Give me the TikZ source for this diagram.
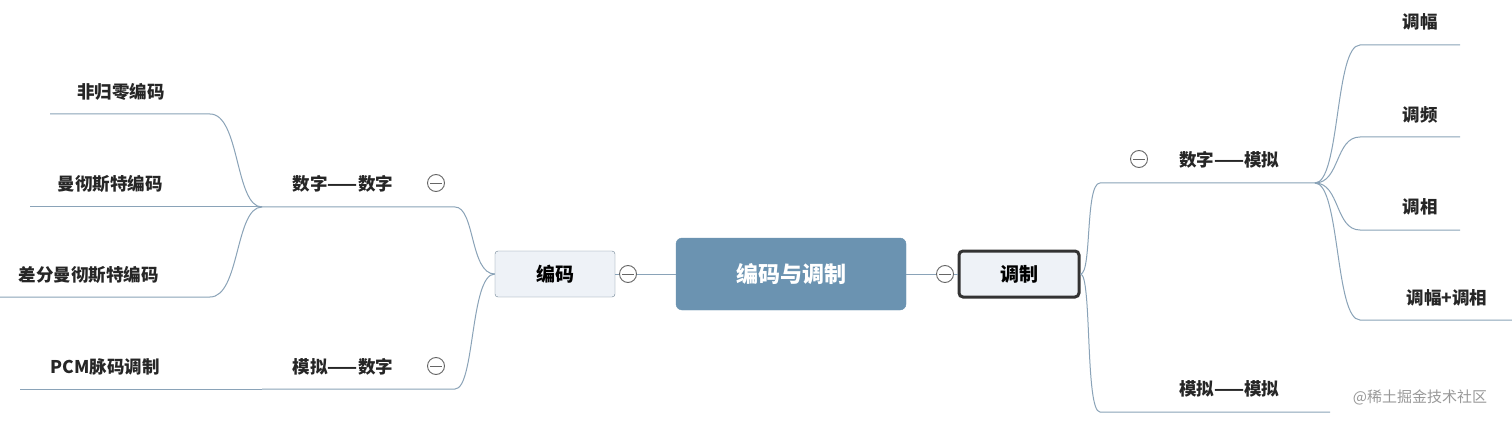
\documentclass[tikz,border=0pt]{standalone}
\usepackage{fontspec}
\newfontfamily\cjk{Noto Sans CJK SC}
\definecolor{ln}{HTML}{8AA3B8}
\definecolor{cen}{HTML}{6B93B1}
\definecolor{box}{HTML}{EEF2F7}
\begin{document}
\begin{tikzpicture}[x=1pt,y=-1pt,font=\cjk\fontsize{17.5}{20}\selectfont\bfseries,
  br/.style={draw=ln,line width=1pt},
  lbl/.style={inner sep=0pt,text=black!85},
  col/.style={circle,draw=black!60,fill=white,minimum size=17pt,inner sep=0pt,line width=0.9pt}]
\useasboundingbox[fill=white] (0,0) rectangle (1512,422);
% main nodes
\node[draw=cen,fill=cen,rounded corners=6pt,minimum width=230pt,minimum height=72pt,text=white,font=\cjk\fontsize{22}{26}\selectfont\bfseries] (c) at (791,274) {编码与调制};
\node[draw=ln!80!black,fill=box,rounded corners=3pt,minimum width=120pt,minimum height=46pt,font=\cjk\fontsize{19}{22}\selectfont\bfseries] (bm) at (555,274) {编码};
\node[draw=black!80,line width=3pt,fill=box,rounded corners=4pt,minimum width=120pt,minimum height=46pt,font=\cjk\fontsize{19}{22}\selectfont\bfseries] (tz) at (1019,274) {调制};
% coordinates
\coordinate (l1a) at (455,207); \coordinate (l1b) at (262,207);
\coordinate (l2a) at (455,389); \coordinate (l2b) at (262,389);
\coordinate (n1a) at (210,114); \coordinate (n1b) at (50,114);
\coordinate (n2b) at (30,207);
\coordinate (n3a) at (210,297); \coordinate (n3b) at (0,297);
\coordinate (p1b) at (20,389);
\coordinate (r1a) at (1100,183); \coordinate (r1b) at (1315,183);
\coordinate (r2a) at (1100,412); \coordinate (r2b) at (1330,412);
\coordinate (t1a) at (1360,45); \coordinate (t1b) at (1460,45);
\coordinate (t2a) at (1360,137); \coordinate (t2b) at (1460,137);
\coordinate (t3a) at (1360,230); \coordinate (t3b) at (1460,230);
\coordinate (t4a) at (1360,320); \coordinate (t4b) at (1512,320);
% connectors
\draw[br] (c.west) -- (bm.east);
\draw[br] (c.east) -- (tz.west);
\draw[br] (bm.west) .. controls (470,274) and (475,207) .. (l1a) -- (l1b);
\draw[br] (bm.west) .. controls (470,274) and (475,389) .. (l2a) -- (l2b);
\draw[br] (l1b) .. controls (235,207) and (240,114) .. (n1a) -- (n1b);
\draw[br] (l1b) -- (n2b);
\draw[br] (l1b) .. controls (235,207) and (240,297) .. (n3a) -- (n3b);
\draw[br] (l2b) -- (p1b);
\draw[br] (tz.east) .. controls (1092,274) and (1085,183) .. (r1a) -- (r1b);
\draw[br] (tz.east) .. controls (1092,274) and (1085,412) .. (r2a) -- (r2b);
\draw[br] (r1b) .. controls (1340,183) and (1335,45) .. (t1a) -- (t1b);
\draw[br] (r1b) .. controls (1340,183) and (1335,137) .. (t2a) -- (t2b);
\draw[br] (r1b) .. controls (1340,183) and (1335,230) .. (t3a) -- (t3b);
\draw[br] (r1b) .. controls (1340,183) and (1335,320) .. (t4a) -- (t4b);
% collapse markers
\foreach \n/\p in {k1/{628,274},k2/{945,274},k3/{436,183},k4/{436,366},k5/{1139,159}}{
  \node[col] (\n) at (\p) {};
  \draw[black!60,line width=0.9pt] ([xshift=-6pt]\n.center) -- ([xshift=6pt]\n.center);}
% labels
\node[lbl] (a1) at (343,184) {数字——数字};
\node[lbl] (a2) at (343,367) {模拟——数字};
\node[lbl] (a3) at (121,92) {非归零编码};
\node[lbl] (a4) at (110,184) {曼彻斯特编码};
\node[lbl] (a5) at (89,275) {差分曼彻斯特编码};
\node[lbl] (a6) at (105,367) {PCM脉码调制};
\node[lbl] (b1) at (1229,160) {数字——模拟};
\node[lbl] (b2) at (1229,389) {模拟——模拟};
\node[lbl] (b3) at (1420,22) {调幅};
\node[lbl] (b4) at (1420,115) {调频};
\node[lbl] (b5) at (1420,207) {调相};
\node[lbl] (b6) at (1447,298) {调幅+调相};
\node[lbl,text=black!40,font=\cjk\fontsize{15}{18}\selectfont] (wm) at (1420,397) {@稀土掘金技术社区};
\end{tikzpicture}
\end{document}
